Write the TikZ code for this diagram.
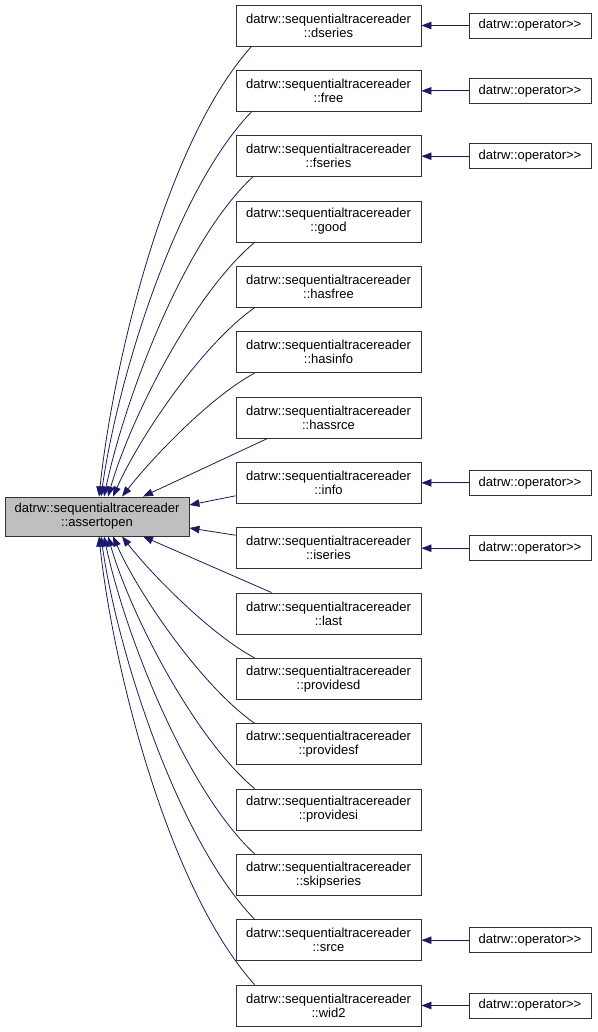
\documentclass[tikz,border=0pt]{standalone}
\usepackage{fontspec}
\setmainfont{Liberation Sans}
\usetikzlibrary{arrows.meta}
\definecolor{edgeblue}{HTML}{191970}
\definecolor{nodegray}{HTML}{BFBFBF}

\begin{document}
\begin{tikzpicture}[x=1pt, y=1pt,
        box/.style={draw=black!80, line width=0.9pt, align=center, inner sep=0pt,
            minimum width=185pt, minimum height=41pt, font=\fontsize{13}{14}\selectfont},
        opbox/.style={draw=black!80, line width=0.9pt, inner sep=0pt,
            minimum width=122pt, minimum height=25pt, font=\fontsize{13}{14}\selectfont},
        call/.style={draw=edgeblue, line width=0.8pt, looseness=0.7, -{Triangle[length=10pt,width=7.5pt]}}]
            \useasboundingbox (0,0) rectangle (597,-1032);

            \node[box, fill=nodegray, minimum width=184pt, minimum height=39pt] (assertopen) at (97,-516.5) {datrw::sequentialtracereader\\::assertopen};

            \node[box] (dseries)    at (328.5,-25.5)  {datrw::sequentialtracereader\\::dseries};
            \node[box] (free)       at (328.5,-90.8)  {datrw::sequentialtracereader\\::free};
            \node[box] (fseries)    at (328.5,-156.2) {datrw::sequentialtracereader\\::fseries};
            \node[box] (good)       at (328.5,-221.5) {datrw::sequentialtracereader\\::good};
            \node[box] (hasfree)    at (328.5,-286.8) {datrw::sequentialtracereader\\::hasfree};
            \node[box] (hasinfo)    at (328.5,-352.2) {datrw::sequentialtracereader\\::hasinfo};
            \node[box] (hassrce)    at (328.5,-417.5) {datrw::sequentialtracereader\\::hassrce};
            \node[box] (info)       at (328.5,-482.8) {datrw::sequentialtracereader\\::info};
            \node[box] (iseries)    at (328.5,-548.2) {datrw::sequentialtracereader\\::iseries};
            \node[box] (last)       at (328.5,-613.5) {datrw::sequentialtracereader\\::last};
            \node[box] (providesd)  at (328.5,-678.8) {datrw::sequentialtracereader\\::providesd};
            \node[box] (providesf)  at (328.5,-744.2) {datrw::sequentialtracereader\\::providesf};
            \node[box] (providesi)  at (328.5,-809.5) {datrw::sequentialtracereader\\::providesi};
            \node[box] (skipseries) at (328.5,-874.8) {datrw::sequentialtracereader\\::skipseries};
            \node[box] (srce)       at (328.5,-940.2) {datrw::sequentialtracereader\\::srce};
            \node[box] (wid2)       at (328.5,-1005.5){datrw::sequentialtracereader\\::wid2};

            \node[opbox] (opdseries) at (530,-25.5)   {datrw::operator>{}>};
            \node[opbox] (opfree)    at (530,-90.8)   {datrw::operator>{}>};
            \node[opbox] (opfseries) at (530,-156.2)  {datrw::operator>{}>};
            \node[opbox] (opinfo)    at (530,-482.8)  {datrw::operator>{}>};
            \node[opbox] (opiseries) at (530,-548.2)  {datrw::operator>{}>};
            \node[opbox] (opsrce)    at (530,-940.2)  {datrw::operator>{}>};
            \node[opbox] (opwid2)    at (530,-1005.5) {datrw::operator>{}>};

            % calls from above
            \draw[call] ([xshift=16pt]dseries.south west) to[out=228, in=84] ([xshift=2pt]assertopen.north);
            \draw[call] ([xshift=16pt]free.south west)    to[out=226, in=82] ([xshift=4pt]assertopen.north);
            \draw[call] ([xshift=17pt]fseries.south west) to[out=223, in=78] ([xshift=7pt]assertopen.north);
            \draw[call] ([xshift=19pt]good.south west)    to[out=220, in=74] ([xshift=11pt]assertopen.north);
            \draw[call] ([xshift=19pt]hasfree.south west) to[out=215, in=66] ([xshift=16pt]assertopen.north);
            \draw[call] ([xshift=19pt]hasinfo.south west) to[out=208, in=52] ([xshift=25pt]assertopen.north);
            \draw[call] ([xshift=32pt]hassrce.south west) -- ([xshift=46pt]assertopen.north);
            \draw[call] ([yshift=-13pt]info.west) -- ([yshift=11.5pt]assertopen.east);

            % calls from below
            \draw[call] ([yshift=13pt]iseries.west) -- ([yshift=-11.5pt]assertopen.east);
            \draw[call] ([xshift=36pt]last.north west)       -- ([xshift=46pt]assertopen.south);
            \draw[call] ([xshift=19pt]providesd.north west)  to[out=152, in=-52] ([xshift=25pt]assertopen.south);
            \draw[call] ([xshift=19pt]providesf.north west)  to[out=145, in=-66] ([xshift=16pt]assertopen.south);
            \draw[call] ([xshift=19pt]providesi.north west)  to[out=140, in=-74] ([xshift=11pt]assertopen.south);
            \draw[call] ([xshift=19pt]skipseries.north west) to[out=137, in=-78] ([xshift=7pt]assertopen.south);
            \draw[call] ([xshift=19pt]srce.north west)       to[out=134, in=-82] ([xshift=4pt]assertopen.south);
            \draw[call] ([xshift=19pt]wid2.north west)       to[out=132, in=-84] ([xshift=2pt]assertopen.south);

            % operator>> calls
            \draw[call] (opdseries) -- (dseries);
            \draw[call] (opfree)    -- (free);
            \draw[call] (opfseries) -- (fseries);
            \draw[call] (opinfo)    -- (info);
            \draw[call] (opiseries) -- (iseries);
            \draw[call] (opsrce)    -- (srce);
            \draw[call] (opwid2)    -- (wid2);
        \end{tikzpicture}
\end{document}
